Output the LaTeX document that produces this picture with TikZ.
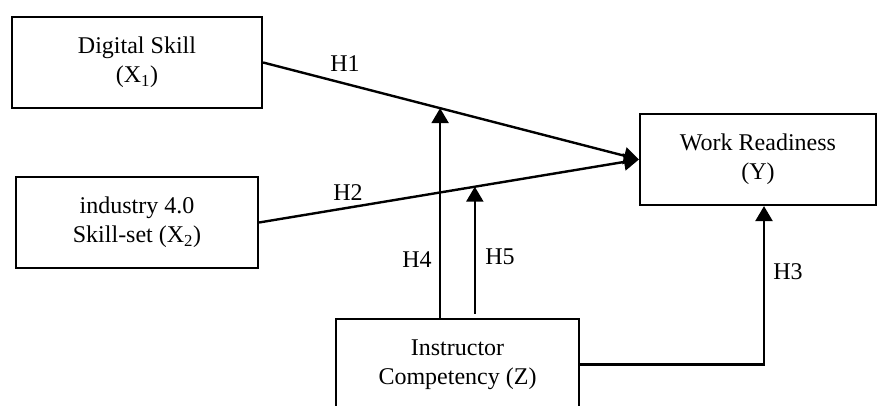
\documentclass[tikz,border=0pt]{standalone}
\usepackage{fontspec}
\setmainfont{Liberation Serif}
\usetikzlibrary{positioning,arrows.meta,calc}

\begin{document}
\begin{tikzpicture}[
    x=1pt, y=1pt,
    font=\fontsize{24}{29}\selectfont,
    var box/.style={
        rectangle,
        draw,
        line width=2.2pt,
        minimum height=91pt,
        align=center,
        inner sep=0pt
    },
    arrow/.style={-{Triangle[length=15pt,width=17pt]}, line width=2.4pt}
]
\useasboundingbox (0,0) rectangle (877,406);

\node[var box, minimum width=250pt] (x1) at (137,343.5) {Digital Skill\\(X\textsubscript{1})};
\node[var box, minimum width=242pt] (x2) at (137,183.5) {industry 4.0\\Skill-set (X\textsubscript{2})};
\node[var box, minimum width=236pt] (y) at (758,246.5) {Work Readiness\\(Y)};
\node[var box, minimum width=243pt] (z) at (457.5,41.5) {Instructor\\Competency (Z)};

\draw[arrow] (x1.east) -- coordinate[pos=0.471] (m1) (y.west);
\draw[arrow] (x2.east) -- coordinate[pos=0.568] (m2) (y.west);

\draw[arrow] (m1 |- z.north) -- (m1);
\draw[arrow] ($(m2 |- z.north)+(0,4)$) -- (m2);
\draw[arrow] (z.east) -| ([xshift=6pt]y.south);

\node (h1) at (345,342) {H1};
\node (h2) at (348,213) {H2};
\node (h4) at (417,146) {H4};
\node (h5) at (500,149) {H5};
\node (h3) at (788,134) {H3};

\end{tikzpicture}
\end{document}
